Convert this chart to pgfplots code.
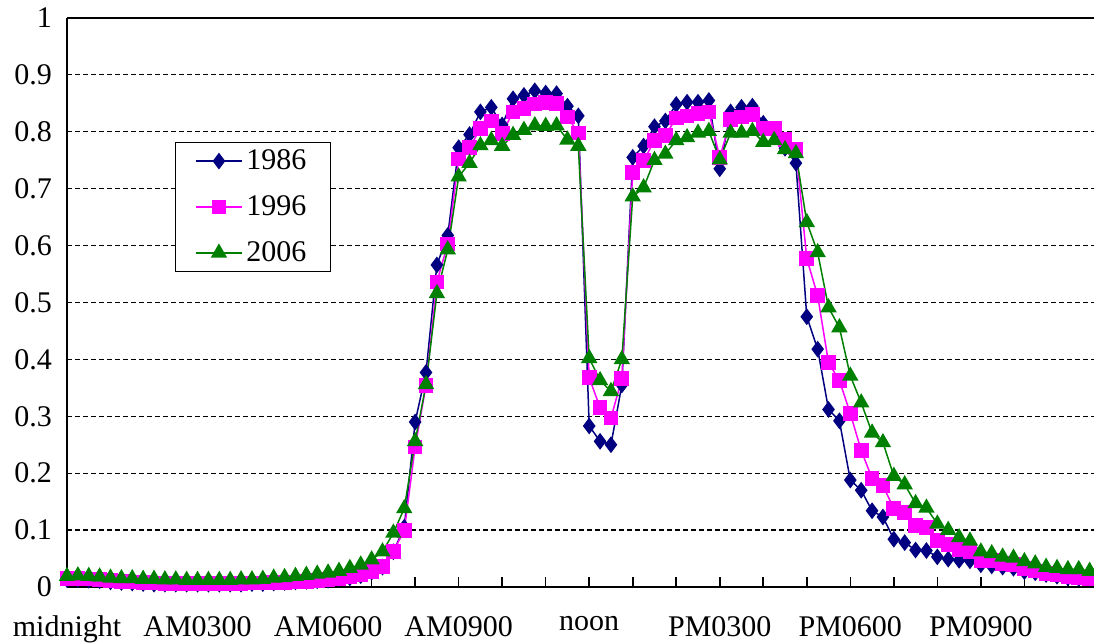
\documentclass[border=0pt]{standalone}
\usepackage{pgfplots}
\usepackage{pgfplotstable}
\pgfplotsset{compat=1.18}
\usepackage{fontspec}
\setmainfont{Liberation Serif}
\definecolor{cnavy}{RGB}{0,0,128}
\definecolor{cmag}{RGB}{255,0,255}
\definecolor{cgreen}{RGB}{0,128,0}
\pgfplotstableread{
i y1986 y1996 y2006
0 0.013 0.015 0.019
1 0.013 0.015 0.020
2 0.012 0.014 0.019
3 0.011 0.013 0.018
4 0.009 0.011 0.016
5 0.008 0.010 0.015
6 0.007 0.009 0.015
7 0.006 0.008 0.014
8 0.005 0.007 0.014
9 0.005 0.006 0.013
10 0.005 0.006 0.013
11 0.005 0.006 0.012
12 0.005 0.006 0.012
13 0.005 0.006 0.012
14 0.005 0.006 0.012
15 0.005 0.006 0.012
16 0.005 0.006 0.013
17 0.006 0.007 0.013
18 0.006 0.007 0.014
19 0.007 0.008 0.016
20 0.008 0.008 0.017
21 0.009 0.009 0.019
22 0.010 0.010 0.021
23 0.011 0.011 0.023
24 0.012 0.013 0.025
25 0.014 0.015 0.028
26 0.016 0.018 0.033
27 0.020 0.021 0.039
28 0.026 0.027 0.048
29 0.035 0.036 0.062
30 0.062 0.063 0.095
31 0.105 0.099 0.138
32 0.290 0.246 0.256
33 0.377 0.354 0.356
34 0.566 0.536 0.516
35 0.618 0.603 0.593
36 0.772 0.752 0.721
37 0.795 0.772 0.745
38 0.835 0.806 0.776
39 0.843 0.819 0.785
40 0.812 0.797 0.775
41 0.858 0.835 0.794
42 0.864 0.841 0.803
43 0.872 0.849 0.811
44 0.868 0.851 0.810
45 0.867 0.850 0.811
46 0.845 0.826 0.786
47 0.828 0.798 0.775
48 0.283 0.368 0.402
49 0.256 0.315 0.363
50 0.250 0.297 0.344
51 0.355 0.366 0.400
52 0.755 0.729 0.686
53 0.775 0.749 0.702
54 0.809 0.785 0.750
55 0.819 0.794 0.761
56 0.848 0.824 0.785
57 0.852 0.828 0.790
58 0.852 0.832 0.798
59 0.855 0.835 0.801
60 0.735 0.755 0.751
61 0.835 0.821 0.798
62 0.843 0.826 0.798
63 0.845 0.831 0.801
64 0.815 0.806 0.782
65 0.800 0.806 0.785
66 0.771 0.786 0.769
67 0.745 0.770 0.762
68 0.475 0.577 0.641
69 0.418 0.512 0.588
70 0.312 0.394 0.491
71 0.292 0.363 0.456
72 0.188 0.305 0.371
73 0.170 0.240 0.324
74 0.134 0.191 0.271
75 0.123 0.178 0.254
76 0.084 0.138 0.195
77 0.078 0.131 0.180
78 0.065 0.108 0.147
79 0.064 0.105 0.139
80 0.053 0.082 0.111
81 0.049 0.075 0.100
82 0.047 0.066 0.087
83 0.046 0.062 0.081
84 0.039 0.047 0.062
85 0.037 0.046 0.059
86 0.035 0.041 0.053
87 0.033 0.039 0.051
88 0.027 0.033 0.045
89 0.025 0.028 0.041
90 0.022 0.024 0.035
91 0.019 0.021 0.033
92 0.016 0.018 0.031
93 0.015 0.016 0.031
94 0.015 0.015 0.028
}\datatable
\begin{document}
\begin{tikzpicture}
\begin{axis}[
  scale only axis,
  anchor=south west, at={(0,0)},
  width=513.5pt, height=284.5pt,
  xmin=0, xmax=94.4,
  ymin=0, ymax=1,
  axis x line*=bottom,
  axis y line*=left,
  axis line style={line width=1pt, black},
  xtick={0,4,...,92},
  xticklabels={midnight,{},{},AM0300,{},{},AM0600,{},{},AM0900,{},{},noon,{},{},PM0300,{},{},PM0600,{},{},PM0900,{},{}},
  xtick align=inside,
  x tick style={black, line width=0.8pt},
  major tick length=5pt,
  ytick={0,0.1,...,0.91},
  extra y ticks={1},
  extra y tick style={grid style={solid, black, line width=0.8pt}},
  y tick style={draw=none},
  ymajorgrids,
  grid style={black, line width=0.6pt, dash pattern=on 2.5pt off 1.5pt},
  yticklabel={\pgfmathprintnumber[fixed,precision=1]{\tick}},
  /pgf/number format/assume math mode=true,
  tick label style={font=\fontsize{15}{18}\selectfont, black},
  xticklabel style={yshift=-11pt},
  yticklabel style={xshift=-4pt},
  legend style={at={(0.105,0.782)}, anchor=north west, draw=black, line width=0.6pt,
    font=\fontsize{15}{18}\selectfont, row sep=7.5pt, inner xsep=10pt, inner ysep=1.5pt},
  legend cell align=left,
  legend image code/.code={\draw[mark repeat=2,mark phase=2] plot coordinates {(0cm,0cm) (0.4cm,0cm) (0.8cm,0cm)};},
]
\addplot[cnavy, line width=0.75pt, mark=diamond*, mark size=3.6pt, mark options={solid, fill=cnavy}] table[x=i, y=y1986] {\datatable};
\addlegendentry{1986}
\addplot[cmag, line width=0.75pt, mark=square*, mark size=3.3pt, mark options={solid, fill=cmag}] table[x=i, y=y1996] {\datatable};
\addlegendentry{1996}
\addplot[cgreen, line width=0.75pt, mark=triangle*, mark size=4pt, mark options={solid, fill=cgreen}] table[x=i, y=y2006] {\datatable};
\addlegendentry{2006}
\end{axis}
\pgfresetboundingbox
\path[use as bounding box] (-33.5pt,-28pt) rectangle (513.5pt,293.5pt);
\end{tikzpicture}
\end{document}
